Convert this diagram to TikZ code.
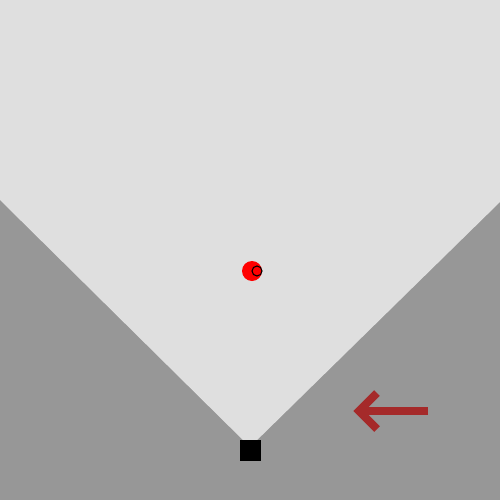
\documentclass[tikz,border=0pt]{standalone}
\usepackage{tikz}
\usetikzlibrary{arrows.meta, positioning}
\definecolor{floorgrey}{HTML}{979797}
\definecolor{viewgrey}{HTML}{DFDFDF}
\definecolor{arrowbrown}{HTML}{A52A2A}

\begin{document}
\begin{tikzpicture}[x=0.01cm, y=-0.01cm,
    target/.style={circle, fill=red, inner sep=0pt, minimum size=20*0.01cm},
    marker/.style={circle, draw=black, line width=0.3pt, inner sep=0pt, minimum size=10*0.01cm},
    sensor/.style={rectangle, fill=black, inner sep=0pt, minimum size=21*0.01cm},
    pusharrow/.style={draw=arrowbrown, line width=2.3pt}]
      \useasboundingbox (0,0) rectangle (500,500);
      \fill[floorgrey] (0,0) rectangle (500,500);
      % visible cone
      \fill[viewgrey] (0,0) -- (500,0) -- (500,202) -- (250,447) -- (0,200) -- cycle;
      \node[sensor] (cam) at (250.5,450.5) {};
      \node[target] (ball) at (252,271) {};
      \node[marker] (spot) at (257,271) {};
      % motion direction
      \coordinate (tail) at (428,411);
      \coordinate (tip) at (359,411);
      \coordinate (barbup) at (377,393);
      \coordinate (barbdown) at (377,429);
      \draw[pusharrow] (tail) -- (tip);
      \draw[pusharrow] (barbup) -- (tip) -- (barbdown);
    \end{tikzpicture}
\end{document}
